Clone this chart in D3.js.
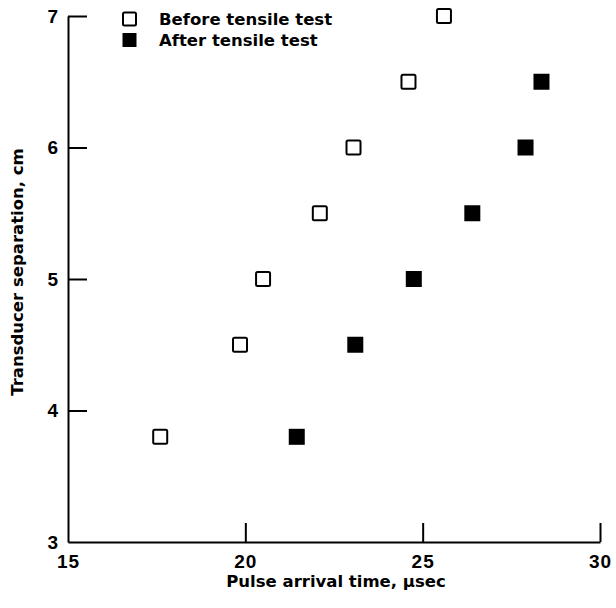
<!DOCTYPE html>
<html>
<head>
<meta charset="utf-8">
<script src="https://cdn.jsdelivr.net/npm/d3@7"></script>
<style>
  html, body { margin: 0; padding: 0; background: #fff; }
  svg { display: block; }
  text { font-family: "Liberation Sans", Arial, Helvetica, sans-serif; font-weight: bold; fill: #000; }
  .label { font-family: "DejaVu Sans", "Liberation Sans", sans-serif; font-size: 16.5px; }
</style>
</head>
<body>
<svg id="chart" width="616" height="608"></svg>
<script>
// Pulse arrival time (µs) vs transducer separation (cm)
const separation = [3.8, 4.5, 5.0, 5.5, 6.0, 6.5, 7.0];
const beforeTime = [17.6, 19.85, 20.5, 22.1, 23.05, 24.6, 25.6];
const afterSeparation = [3.8, 4.5, 5.0, 5.5, 6.0, 6.5];
const afterTime = [21.45, 23.1, 24.75, 26.4, 27.9, 28.35];

const xTicks = [15, 20, 25, 30];
const yTicks = [3, 4, 5, 6, 7];
const seriesNames = ["Before tensile test", "After tensile test"];

const svg = d3.select("#chart");
const plot = { left: 68, right: 600, top: 16, bottom: 542 };

const x = d3.scaleLinear().domain([15, 30]).range([plot.left, plot.right]);
const y = d3.scaleLinear().domain([3, 7]).range([plot.bottom, plot.top]);

const fmt = d3.format("d");

function styleTickText(sel) {
  sel.style("font-size", "19px")
    .style("font-family", '"Liberation Sans", Arial, sans-serif')
    .style("font-weight", "bold")
    .style("letter-spacing", "1px")
    .attr("fill", "#000");
}

// x axis: ticks point up into the plot
const gx = svg.append("g").attr("transform", `translate(0,${plot.bottom})`)
  .call(d3.axisBottom(x).tickValues(xTicks).tickFormat(fmt).tickSize(-19).tickSizeOuter(0));
gx.select(".domain").attr("stroke", "#000").attr("stroke-width", 2);
gx.selectAll(".tick line").attr("stroke", "#000").attr("stroke-width", 2)
  .attr("display", d => d === 15 ? "none" : null);
gx.selectAll(".tick text").attr("y", 26).attr("dy", null).call(styleTickText);

// y axis: ticks point right into the plot
const gy = svg.append("g").attr("transform", `translate(${plot.left},0)`)
  .call(d3.axisLeft(y).tickValues(yTicks).tickFormat(fmt).tickSize(-19).tickSizeOuter(0));
gy.select(".domain").attr("stroke", "#000").attr("stroke-width", 2);
gy.selectAll(".tick line").attr("stroke", "#000").attr("stroke-width", 2)
  .attr("display", d => d === 3 ? "none" : null);
gy.selectAll(".tick text").attr("x", -9).call(styleTickText);

// Axis titles
svg.append("text").attr("class", "label")
  .attr("x", (plot.left + plot.right) / 2 + 2).attr("y", 587)
  .attr("text-anchor", "middle")
  .text("Pulse arrival time, µsec");

svg.append("text").attr("class", "label")
  .attr("transform", `translate(23,272) rotate(-90)`)
  .attr("text-anchor", "middle")
  .text("Transducer separation, cm");

// Markers
const size = 14;
svg.append("g").selectAll("rect")
  .data(separation.map((s, i) => ({ s, t: beforeTime[i] })))
  .join("rect")
  .attr("x", d => x(d.t) - size / 2).attr("y", d => y(d.s) - size / 2)
  .attr("width", size).attr("height", size).attr("rx", 1.5)
  .attr("fill", "#fff").attr("stroke", "#000").attr("stroke-width", 2);

svg.append("g").selectAll("rect")
  .data(afterSeparation.map((s, i) => ({ s, t: afterTime[i] })))
  .join("rect")
  .attr("x", d => x(d.t) - (size + 2) / 2).attr("y", d => y(d.s) - (size + 2) / 2)
  .attr("width", size + 2).attr("height", size + 2)
  .attr("fill", "#000");

// Legend
const legend = svg.append("g");
seriesNames.forEach((name, i) => {
  const cy = 19 + i * 21;
  if (i === 0) {
    legend.append("rect").attr("x", 129.5 - 6.5).attr("y", cy - 6.5)
      .attr("width", 13).attr("height", 13).attr("rx", 1.5)
      .attr("fill", "#fff").attr("stroke", "#000").attr("stroke-width", 2);
  } else {
    legend.append("rect").attr("x", 129.5 - 7).attr("y", cy - 7)
      .attr("width", 14).attr("height", 14).attr("fill", "#000");
  }
  legend.append("text").attr("class", "label").attr("x", 159).attr("y", cy + 6)
    .text(name);
});
</script>
</body>
</html>
